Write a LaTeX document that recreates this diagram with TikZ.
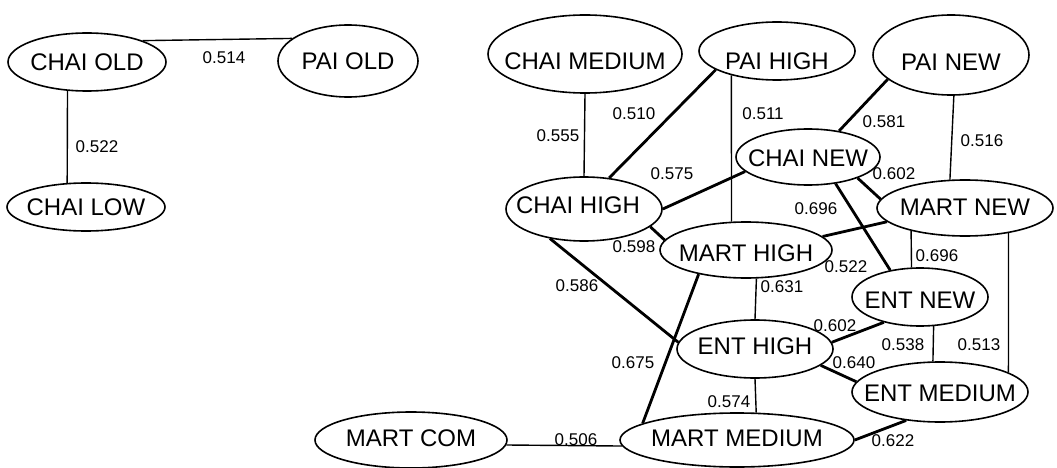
\documentclass[tikz,border=0pt]{standalone}
\usepackage{fontspec}
\setmainfont{Liberation Sans}
\usetikzlibrary{shapes.geometric}
\begin{document}
\begin{tikzpicture}[x=1pt,y=-1pt,
  st/.style={draw, ellipse, line width=1.6pt, inner sep=0pt, text depth=0pt, text height=#1,
     font=\fontsize{24}{24}\selectfont},
  st/.default=17pt,
  lnA/.style={line width=1.4pt},
  lnB/.style={line width=2.8pt},
  lab/.style={font=\fontsize{17}{17}\selectfont, inner sep=0pt}]
\useasboundingbox (0,0) rectangle (1057,468);
% nodes
\node[st, minimum width=158, minimum height=58] (chaiold) at (87,62) {\makebox[0pt]{CHAI OLD}};
\node[st, minimum width=140, minimum height=72] (paiold) at (348,61) {\makebox[0pt]{PAI OLD}};
\node[st, minimum width=158, minimum height=48] (chailow) at (86,207) {\makebox[0pt]{CHAI LOW}};
\node[st=31pt, minimum width=194, minimum height=78] (chaimed) at (585,54) {\makebox[0pt]{CHAI MEDIUM}};
\node[st=37pt, minimum width=156, minimum height=58] (paihigh) at (777,51) {\makebox[0pt]{PAI HIGH}};
\node[st=31pt, minimum width=156, minimum height=80] (painew) at (951,55) {\makebox[0pt]{PAI NEW}};
\node[st=19pt, minimum width=144, minimum height=56] (chainew) at (808,157) {\makebox[0pt]{CHAI NEW}};
\node[st=15pt, minimum width=176, minimum height=56] (martnew) at (965,208) {\makebox[0pt]{MART NEW}};
\node[st=9pt, minimum width=156, minimum height=64] (chaihigh) at (584,209) {\makebox[0pt]{\hspace*{-12pt}CHAI HIGH}};
\node[st=23pt, minimum width=172, minimum height=56] (marthigh) at (746,250) {\makebox[0pt]{MART HIGH}};
\node[st=23pt, minimum width=136, minimum height=58] (entnew) at (920,297) {\makebox[0pt]{ENT NEW}};
\node[st=11pt, minimum width=156, minimum height=58] (enthigh) at (755,349) {\makebox[0pt]{ENT HIGH}};
\node[st=19pt, minimum width=176, minimum height=60] (entmed) at (940,392) {\makebox[0pt]{ENT MEDIUM}};
\node[st=13pt, minimum width=234, minimum height=54] (martmed) at (737,440) {\makebox[0pt]{MART MEDIUM}};
\node[st=13pt, minimum width=192, minimum height=56] (martcom) at (411,440) {\makebox[0pt]{MART COM}};
% connectors
\draw[lnA] (chaiold.21) -- (paiold.158) node[lab, at={(224,58)}] {0.514};
\draw[lnA] (chaiold.236) -- (chailow.128) node[lab, at={(97,147)}] {0.522};
\draw[lnA] (chaimed.south) -- (chaihigh.north) node[lab, at={(558,136)}] {0.555};
\draw[lnB] (paihigh.197) -- (chaihigh.51) node[lab, at={(634,114)}] {0.510};
\draw[lnA] (paihigh.208) -- (marthigh.117) node[lab, at={(763,114)}] {0.511};
\draw[lnB] (chainew.193) -- (chaihigh.0) node[lab, at={(672,174)}] {0.575};
\draw[lnB] (painew.201) -- (chainew.40) node[lab, at={(884,122)}] {0.581};
\draw[lnA] (painew.274) -- (martnew.118) node[lab, at={(982,141)}] {0.516};
\draw[lnB] (chainew.337) -- (martnew.174) node[lab, at={(894,174)}] {0.602};
\draw[lnB] (chainew.316) -- (entnew.138) node[lab, at={(846,267)}] {0.522};
\draw[lnB] (martnew.190) -- (marthigh.10) node[lab, at={(816,209)}] {0.696};
\draw[lnA] (martnew.203) -- (entnew.106) node[lab, at={(937,256)}] {0.696};
\draw[lnA] (martnew.330) -- (entmed.16) node[lab, at={(979,345)}] {0.513};
\draw[lnB] (chaihigh.345) -- (marthigh.173) node[lab, at={(634,247)}] {0.598};
\draw[lnB] (chaihigh.221) -- (enthigh.175) node[lab, at={(577,286)}] {0.586};
\draw[lnA] (marthigh.290) -- (enthigh.90) node[lab, at={(782,287)}] {0.631};
\draw[lnB] (marthigh.207) -- (martmed.170) node[lab, at={(633,363)}] {0.675};
\draw[lnB] (enthigh.5) -- (entnew.215) node[lab, at={(835,326)}] {0.602};
\draw[lnB] (enthigh.346) -- (entmed.173) node[lab, at={(854,363)}] {0.640};
\draw[lnA] (entnew.295) -- (entmed.103) node[lab, at={(903,345)}] {0.538};
\draw[lnA] (enthigh.270) -- (martmed.55) node[lab, at={(729,402)}] {0.574};
\draw[lnB] (martmed.0) -- (entmed.220) node[lab, at={(893,441)}] {0.622};
\draw[lnA] (martcom.357) -- (martmed.183) node[lab, at={(576,440)}] {0.506};
\end{tikzpicture}
\end{document}
